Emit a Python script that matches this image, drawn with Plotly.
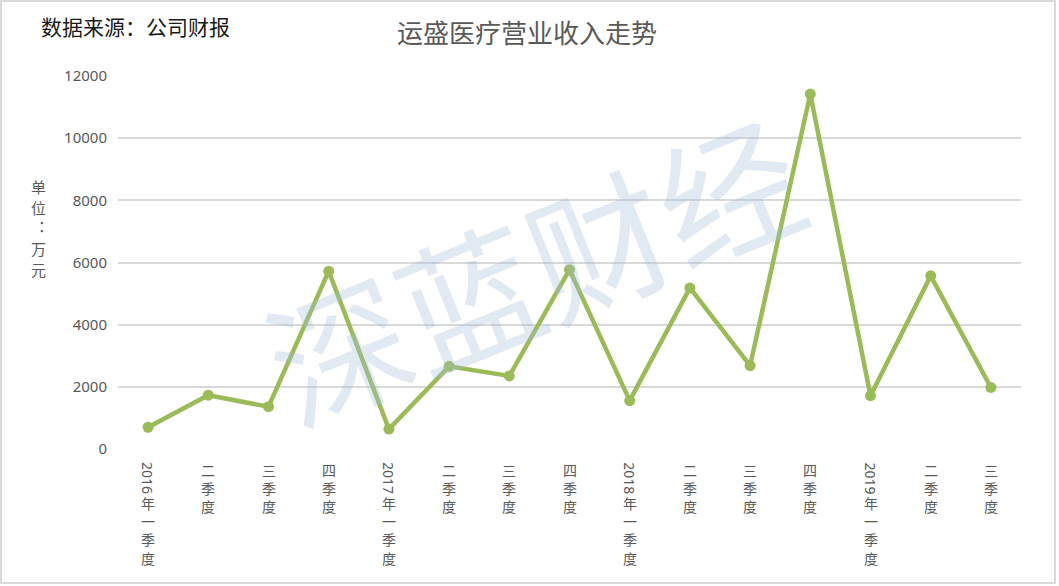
import plotly.graph_objects as go

# ---- data ----
labels = ["2016年一季度", "二季度", "三季度", "四季度",
          "2017年一季度", "二季度", "三季度", "四季度",
          "2018年一季度", "二季度", "三季度", "四季度",
          "2019年一季度", "二季度", "三季度"]
revenue = [700, 1730, 1360, 5720, 640, 2660, 2350, 5770,
           1555, 5180, 2680, 11420, 1715, 5570, 1980]
y_ticks = [0, 2000, 4000, 6000, 8000, 10000, 12000]
title_text = "运盛医疗营业收入走势"
source_text = "数据来源：公司财报"
unit_text = "单位︓万元"
watermark_text = "深蓝财经"

W, H = 1059, 586
L, T = 118, 76
R = 1059 - 1021
B = 586 - 449
pw, ph = W - L - R, H - T - B

def px_x(p):
    return (p - L) / pw

def px_y(p):
    return (T + ph - p) / ph

GREY = "#595959"
CJK = "Noto Sans CJK SC"
xs = list(range(len(labels)))

fig = go.Figure()
fig.add_trace(go.Scatter(
    x=xs, y=revenue, mode="lines+markers",
    line=dict(color="#9bbb59", width=4.5),
    marker=dict(color="#9bbb59", size=11),
    cliponaxis=False, hoverinfo="skip", showlegend=False,
))

ann = []
for i, lab in enumerate(labels):
    digits = ""
    j = 0
    while j < len(lab) and lab[j].isdigit():
        digits += lab[j]
        j += 1
    rest = lab[j:]
    shift = -9
    if digits:
        ann.append(dict(x=i, y=0, xref="x", yref="paper", text=digits,
                        textangle=90, showarrow=False, xanchor="center",
                        yanchor="top", yshift=-11,
                        font=dict(family="Noto Sans", size=14, color=GREY)))
        shift = -42
    ann.append(dict(x=i, y=0, xref="x", yref="paper",
                    text="<br>".join(list(rest)), showarrow=False,
                    xanchor="center", yanchor="top", yshift=shift,
                    font=dict(family=CJK, size=14, color=GREY)))

ann.append(dict(x=px_x(527), y=px_y(32), xref="paper", yref="paper",
                text=title_text, showarrow=False, xanchor="center",
                yanchor="middle",
                font=dict(family=CJK, size=26, color=GREY)))
ann.append(dict(x=px_x(39), y=px_y(26), xref="paper", yref="paper",
                text=source_text, showarrow=False, xanchor="left",
                yanchor="middle",
                font=dict(family=CJK, size=21, color="#1a1a1a")))
unit_centres = [186, 207, 227, 248, 269]
for ch, cy in zip(unit_text, unit_centres):
    ann.append(dict(x=px_x(38), y=px_y(cy), xref="paper", yref="paper",
                    text=ch, showarrow=False, xanchor="center",
                    yanchor="middle", borderpad=0,
                    font=dict(family=CJK, size=15, color=GREY)))
ann.append(dict(x=px_x(532), y=px_y(266), xref="paper", yref="paper",
                text=watermark_text, showarrow=False, textangle=-22,
                xanchor="center", yanchor="middle",
                font=dict(family=CJK, size=140, color="rgba(165,188,220,0.33)")))

fig.update_layout(
    width=W, height=H,
    margin=dict(l=L, r=R, t=T, b=B, autoexpand=False),
    paper_bgcolor="white", plot_bgcolor="white",
    annotations=ann,
    xaxis=dict(range=[-0.5, len(labels) - 0.5], showgrid=False,
               showticklabels=False, zeroline=False, showline=False,
               fixedrange=True),
    yaxis=dict(range=[0, 12000], tickvals=y_ticks,
               ticktext=[str(v) for v in y_ticks],
               showgrid=True, gridcolor="#d9d9d9", gridwidth=1.5,
               zeroline=False, showline=False, ticks="",
               ticklabelstandoff=10, fixedrange=True,
               tickfont=dict(family="Noto Sans", size=15, color=GREY)),
    shapes=[dict(type="rect", xref="paper", yref="paper",
                 x0=px_x(1), x1=px_x(1055), y0=px_y(583), y1=px_y(1),
                 line=dict(color="#d9d9d9", width=2), layer="below")],
)

fig.write_html(
    "out.html",
    config={"displayModeBar": False},
    post_script="document.body.style.margin='0';"
                "document.body.style.overflow='hidden';",
)
